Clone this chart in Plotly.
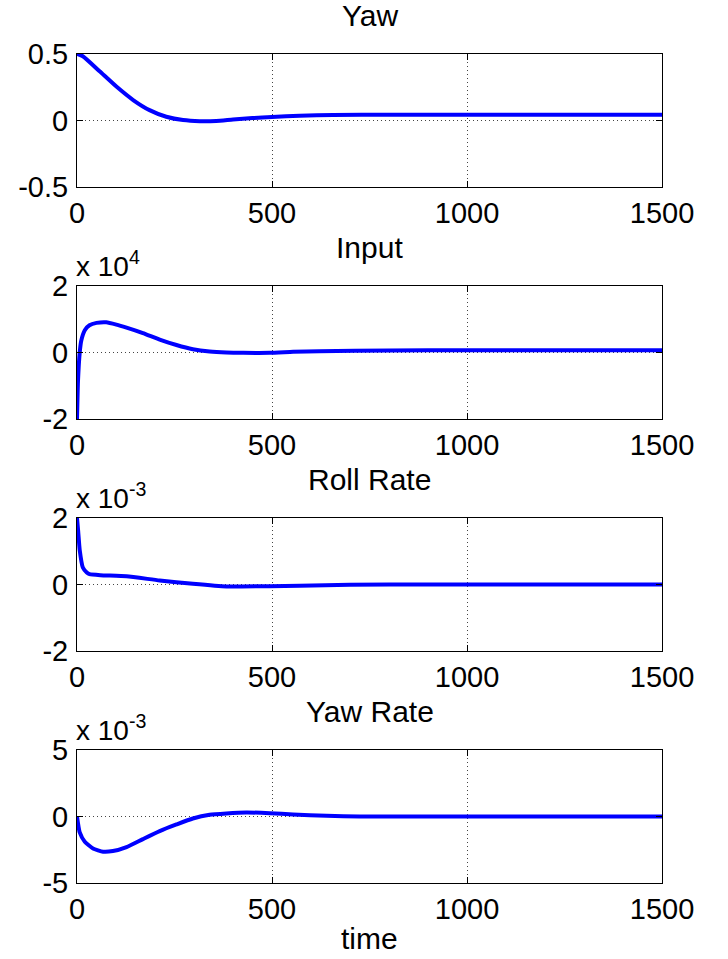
import plotly.graph_objects as go

# ---- data ----
yaw_t = [0, 15, 58, 101, 144, 186, 229, 272, 315, 357, 400, 450, 500, 571, 657, 800, 1000, 1200, 1500]
yaw_v = [0.5, 0.483, 0.37, 0.255, 0.154, 0.078, 0.028, 0.003, -0.005, -0.003, 0.008, 0.018, 0.027, 0.036, 0.042, 0.044, 0.044, 0.044, 0.044]

input_t = [0, 2.5, 7, 11, 20, 32, 50, 75, 101, 127, 169, 212, 255, 297, 340, 383, 426, 494, 554, 621, 800, 1000, 1200, 1500]
input_v = [-20000, -8700, 0, 3600, 6700, 8200, 8900, 9100, 8400, 7500, 5850, 3900, 2260, 1000, 300, 0, -100, -100, 200, 400, 600, 700, 700, 700]

roll_t = [0, 3, 7, 15, 25, 32, 60, 127, 212, 297, 383, 494, 571, 700, 900, 1200, 1500]
roll_v = [2.0e-3, 1.6e-3, 1.03e-3, 0.51e-3, 0.36e-3, 0.31e-3, 0.28e-3, 0.25e-3, 0.12e-3, 0.02e-3, -0.06e-3, -0.05e-3, -0.04e-3, -0.01e-3, 0.0, 0.0, 0.0]

yawrate_t = [0, 7, 20, 41, 67, 92, 127, 169, 212, 255, 297, 340, 383, 434, 494, 554, 640, 725, 900, 1200, 1500]
yawrate_v = [0.0, -1.2e-3, -1.9e-3, -2.4e-3, -2.65e-3, -2.6e-3, -2.3e-3, -1.7e-3, -1.1e-3, -0.6e-3, -0.15e-3, 0.13e-3, 0.23e-3, 0.3e-3, 0.25e-3, 0.15e-3, 0.05e-3, 0.0, 0.0, 0.0, 0.0]

titles = ["Yaw", "Input", "Roll Rate", "Yaw Rate"]
x_ticks = [0, 500, 1000, 1500]
x_ticklabels = ["0", "500", "1000", "1500"]
y_ranges = [[-0.5, 0.5], [-20000, 20000], [-2e-3, 2e-3], [-5e-3, 5e-3]]
y_ticks = [[-0.5, 0, 0.5], [-20000, 0, 20000], [-2e-3, 0, 2e-3], [-5e-3, 0, 5e-3]]
y_ticklabels = [["-0.5", "0", "0.5"], ["-2", "0", "2"], ["-2", "0", "2"], ["-5", "0", "5"]]
exponents = [None, "4", "-3", "-3"]

series = [(yaw_t, yaw_v), (input_t, input_v), (roll_t, roll_v), (yawrate_t, yawrate_v)]

W, H = 728, 959
left_px, right_px = 77, 662
tops_px = [54, 286, 518, 750]
bottoms_px = [187, 419, 651, 883]

FONT = "Liberation Sans, Arial, Helvetica, sans-serif"
BLUE = "#0000FF"

fig = go.Figure()
layout = dict(
    width=W, height=H,
    margin=dict(l=0, r=0, t=0, b=0, autoexpand=False),
    paper_bgcolor="white", plot_bgcolor="white",
    showlegend=False,
    font=dict(family=FONT, size=29, color="black"),
)
annotations = []
for i, ((t, v), title) in enumerate(zip(series, titles)):
    n = "" if i == 0 else str(i + 1)
    fig.add_trace(go.Scatter(x=t, y=v, mode="lines", line=dict(color=BLUE, width=4, shape="spline", smoothing=0.5),
                             xaxis="x" + n, yaxis="y" + n, hoverinfo="skip"))
    axstyle = dict(showline=True, linecolor="black", linewidth=1, mirror="ticks",
                   ticks="inside", ticklen=6, tickcolor="black", tickwidth=1,
                   showgrid=True, gridcolor="#444444", gridwidth=1, griddash="1px,3px",
                   zeroline=False, automargin=False,
                   tickfont=dict(family=FONT, size=29, color="black"))
    layout["xaxis" + n] = dict(domain=[left_px / W, right_px / W], range=[0, 1500],
                              tickmode="array", tickvals=x_ticks, ticktext=x_ticklabels,
                              anchor="y" + n, ticklabelstandoff=0, **axstyle)
    layout["yaxis" + n] = dict(domain=[1 - bottoms_px[i] / H, 1 - tops_px[i] / H], range=y_ranges[i],
                              tickmode="array", tickvals=y_ticks[i], ticktext=y_ticklabels[i],
                              anchor="x" + n, ticklabelstandoff=2, **axstyle)
    annotations.append(dict(text=title, xref="paper", yref="paper", x=((left_px + right_px) / 2) / W,
                            y=1 - (tops_px[i] - 20) / H, xanchor="center", yanchor="bottom",
                            showarrow=False, font=dict(family=FONT, size=30, color="black")))
    if exponents[i]:
        annotations.append(dict(text="x 10<sup>" + exponents[i] + "</sup>", xref="paper", yref="paper",
                                x=(left_px - 3) / W, y=1 - (tops_px[i] - 2) / H, xanchor="left", yanchor="bottom",
                                showarrow=False, font=dict(family=FONT, size=28, color="black")))

annotations.append(dict(text="time", xref="paper", yref="paper", x=((left_px + right_px) / 2) / W,
                        y=1 - 957 / H, xanchor="center", yanchor="bottom", showarrow=False,
                        font=dict(family=FONT, size=30, color="black")))
layout["annotations"] = annotations
fig.update_layout(**layout)
fig.write_html("out.html")
